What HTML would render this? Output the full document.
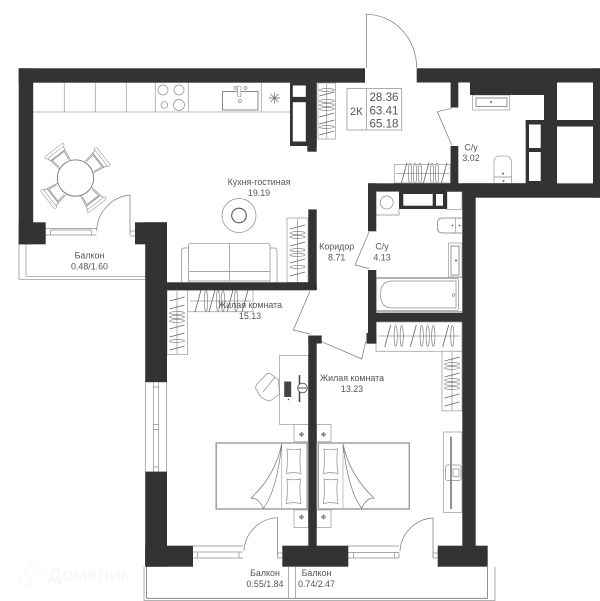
<!DOCTYPE html>
<html><head><meta charset="utf-8"><style>
html,body{margin:0;padding:0;background:#fff}
svg{display:block;filter:blur(.3px)}
text{font-family:"Liberation Sans",sans-serif;font-size:8.9px;fill:#555;text-anchor:middle}
.l{fill:none;stroke:#8c8c8c;stroke-width:.7}
.k{fill:#fff;stroke:#a5a5a5;stroke-width:.8}
.d{fill:none;stroke:#777;stroke-width:.7}
.t{fill:#fff;stroke:#a0a0a0;stroke-width:1.5}
</style></head><body>
<svg width="600" height="601" viewBox="0 0 600 601" xmlns="http://www.w3.org/2000/svg">
<defs>
<g id="hv"><ellipse cx="0" cy="0" rx="1.6" ry="10.5" fill="#fff" stroke="#777" stroke-width=".6"/></g>
<g id="hs"><line x1="-3" y1="11" x2="3" y2="-11" stroke="#666" stroke-width=".8"/></g>
<g id="hh"><ellipse cx="0" cy="0" rx="7.5" ry="1.4" fill="#fff" stroke="#777" stroke-width=".6"/></g>
<g id="hj"><line x1="-7.5" y1="2" x2="7.5" y2="-2" stroke="#666" stroke-width=".8"/></g>
<g id="ch"><path class="l" d="M-7-17 L-9-29 H9 L7-17"/><path class="l" d="M-6-19 L-7.5-28 H7.5 L6-19"/><rect x="-11.5" y="-35.5" width="23" height="3" rx="1" fill="#fff" stroke="#999" stroke-width=".6"/><path class="l" d="M-10-32.5 L-9-29 M10-32.5 L9-29"/></g>
<g id="p"><path class="l" d="M1.5 0 Q8 1.6 15 0 Q13.5 12 15.5 24.5 Q8 22.8 1 24.5 Q2.5 12 1.5 0Z"/></g>
<g id="hb"><circle cx="0" cy="0" r="1.6" class="l"/><line x1="-2.5" y1="0" x2="2.5" y2="0" stroke="#555" stroke-width=".6"/><line x1="0" y1="-2.5" x2="0" y2="2.5" stroke="#555" stroke-width=".6"/></g>
</defs>

<!-- watermark -->
<text x="48" y="581" style="font-size:19px;fill:#f8f8f8;text-anchor:start;font-weight:bold">Домклик</text>
<path d="M21 578 L32 561 L43 568 V572 L30 578 V585 H21Z" fill="none" stroke="#f8f8f8" stroke-width="1.2"/>

<!-- balconies -->
<path class="l" d="M19 244 V279.3 H145 M26 244 V276.3 H145"/>
<path d="M144 567 V600.5 H495 V567" fill="none" stroke="#999" stroke-width=".8"/>
<path d="M146.5 567 V598.3 H487.5 V567" fill="none" stroke="#777" stroke-width=".8"/>
<path class="l" d="M288.5 567 V598.3 M295.5 567 V598.3"/>

<!-- kitchen counter -->
<path class="k" d="M33 112 H290 M64.3 82 V112 M95.3 82 V112 M126.3 82 V112 M155.3 82 V112 M188.3 82 V112 M261.3 82 V112" style="fill:none"/>
<circle class="l" cx="163" cy="90" r="5"/><circle class="l" cx="179" cy="90" r="5"/><circle class="l" cx="164.3" cy="105" r="3.3"/><circle class="l" cx="179" cy="105" r="5.5"/>
<rect x="222.5" y="91.5" width="35.5" height="18.5" fill="#fff" stroke="#888" stroke-width="1"/>
<rect x="237.5" y="86" width="3.4" height="11" rx="1.7" fill="#fff" stroke="#888" stroke-width=".6"/>
<circle class="l" cx="235.5" cy="88" r="1.5"/><circle class="l" cx="245.5" cy="88" r="1.5"/><circle class="l" cx="240" cy="101" r="1.5"/>
<path d="M269 98 H280 M274.5 92.5 V103.5 M270.5 94 L278.5 102 M278.5 94 L270.5 102" stroke="#666" stroke-width=".7"/>

<!-- dining -->
<g transform="translate(75.5 178)">
<use href="#ch" transform="rotate(-38)"/><use href="#ch" transform="rotate(52)"/><use href="#ch" transform="rotate(142)"/><use href="#ch" transform="rotate(232)"/>
<circle r="18.2" fill="#fff" stroke="#777" stroke-width=".9"/>
</g>

<!-- rug and sofa -->
<circle class="l" cx="239" cy="215.5" r="17"/><circle cx="239" cy="215.5" r="7.3" fill="none" stroke="#555" stroke-width="1.1"/>
<path class="l" d="M181.5 282 V251 Q181.5 248 184 248 H188.5 M277 282 V251 Q277 248 274.5 248 H270 M188.5 282 V246 Q188.5 243.3 191 243.3 H267.5 Q270 243.3 270 246 V282 M229.5 243.3 V281 M188.5 271.5 H270 M188.5 281 H270"/>

<!-- wardrobes -->
<rect class="k" x="318" y="83" width="17.5" height="56"/>
<rect class="k" x="287" y="218" width="21" height="64.5"/>
<rect class="k" x="394.3" y="164.5" width="56" height="18.5"/>
<rect class="k" x="167" y="290" width="20.5" height="64.5"/>
<rect class="k" x="187.5" y="290" width="65.5" height="21.7"/>
<rect class="k" x="376" y="322" width="86" height="29.3"/>
<rect class="k" x="442" y="351.3" width="20" height="59.5"/>
<use href="#hh" x="326.8" y="90"/><use href="#hj" x="326.8" y="94"/><use href="#hh" x="326.8" y="101"/><use href="#hh" x="326.8" y="105"/><use href="#hh" x="326.8" y="109"/><use href="#hj" x="326.8" y="115"/><use href="#hj" x="326.8" y="122"/><use href="#hh" x="326.8" y="127"/><use href="#hj" x="326.8" y="133"/>
<use href="#hj" x="297.5" y="227"/><use href="#hh" x="297.5" y="233"/><use href="#hh" x="297.5" y="237"/><use href="#hj" x="297.5" y="244"/><use href="#hh" x="297.5" y="250"/><use href="#hh" x="297.5" y="255"/><use href="#hj" x="297.5" y="261"/><use href="#hh" x="297.5" y="267"/><use href="#hj" x="297.5" y="274"/>
<use href="#hs" x="404" y="173.5"/><use href="#hv" x="410" y="173.5"/><use href="#hv" x="415" y="173.5"/><use href="#hv" x="420" y="173.5"/><use href="#hs" x="426" y="173.5"/><use href="#hv" x="432" y="173.5"/><use href="#hv" x="437" y="173.5"/><use href="#hs" x="444" y="173.5"/>
<use href="#hj" x="177" y="299"/><use href="#hj" x="177" y="307"/><use href="#hh" x="177" y="313"/><use href="#hh" x="177" y="317"/><use href="#hh" x="177" y="321"/><use href="#hj" x="177" y="327"/><use href="#hj" x="177" y="335"/><use href="#hh" x="177" y="341"/><use href="#hj" x="177" y="348"/>
<use href="#hs" x="198" y="301"/><use href="#hv" x="206" y="301"/><use href="#hs" x="212" y="301"/><use href="#hv" x="218" y="301"/><use href="#hv" x="223" y="301"/><use href="#hs" x="230" y="301"/><use href="#hv" x="236" y="301"/><use href="#hs" x="245" y="301"/>
<use href="#hs" x="387.7" y="336"/><use href="#hv" x="395.7" y="336"/><use href="#hv" x="401.7" y="336"/><use href="#hs" x="413.3" y="336"/><use href="#hv" x="421.7" y="336"/><use href="#hv" x="427.7" y="336"/><use href="#hv" x="433.3" y="336"/><use href="#hs" x="445.7" y="336"/><use href="#hv" x="452.3" y="336"/>
<use href="#hj" x="452" y="359"/><use href="#hh" x="452" y="364"/><use href="#hh" x="452" y="368"/><use href="#hj" x="452" y="375"/><use href="#hh" x="452" y="380"/><use href="#hh" x="452" y="384"/><use href="#hh" x="452" y="388"/><use href="#hj" x="452" y="396"/><use href="#hj" x="452" y="404"/>
<path d="M326.8 84 V138 M297.5 219 V282 M396 173.5 H449 M177 291 V354 M190 301 H251 M379 336 H460 M452 352 V410" stroke="#666" stroke-width=".5"/>

<!-- info -->
<rect x="347" y="88.5" width="54.7" height="41.5" fill="#fff" stroke="#999" stroke-width=".8"/>
<line x1="366.5" y1="88.5" x2="366.5" y2="130" stroke="#999" stroke-width=".8"/>
<text x="356.3" y="115" style="font-size:11px">2К</text>
<text x="384" y="101" style="font-size:11.6px">28.36</text>
<text x="384" y="114.3" style="font-size:11.6px">63.41</text>
<text x="384" y="127.5" style="font-size:11.6px">65.18</text>

<!-- bath 1 -->
<rect class="k" x="472.5" y="95" width="37.2" height="15"/>
<rect x="476" y="98" width="31" height="8.5" fill="#fff" stroke="#888" stroke-width=".9"/>
<circle cx="491" cy="102" r="1" fill="#666"/>
<path class="k" d="M494 183 V163 Q494 156 500 156 H505.5 Q511.5 156 511.5 163 V183"/>
<path class="l" d="M494 177 H511.5"/>
<circle cx="503" cy="173.5" r="1" fill="#666"/><circle cx="503.5" cy="181" r="1" fill="#666"/>

<!-- bath 2 -->
<circle class="l" cx="386.7" cy="202.5" r="6.5"/>
<path class="l" d="M376 215 H399 V209"/>
<rect class="k" x="447" y="191.5" width="15" height="18"/>
<path d="M462 218 H443 Q437.5 218 437.5 223 V228 Q437.5 233 443 233 H462" fill="#fff" stroke="#999" stroke-width="1"/>
<line x1="455.5" y1="218" x2="455.5" y2="233" stroke="#999" stroke-width=".7"/>
<circle cx="452.5" cy="225.5" r=".9" fill="#555"/><circle cx="459.5" cy="225.5" r=".9" fill="#555"/>
<rect class="k" x="448.5" y="243" width="13.5" height="34"/>
<rect x="451" y="246" width="8" height="29" fill="#fff" stroke="#888" stroke-width=".9"/>
<circle cx="456" cy="260.5" r="1" fill="#555"/>
<path d="M376 277.5 H462" stroke="#999" stroke-width=".7"/>
<rect x="376" y="278.5" width="82.5" height="32" rx="2" fill="#fff" stroke="#999" stroke-width=".8"/>
<path class="l" d="M408 281 H392 Q380.5 281 380.5 294 Q380.5 308 392 308 H456 V281 H408"/>
<circle class="l" cx="453.5" cy="295" r="1.3"/>
<line x1="376" y1="311.5" x2="462" y2="311.5" stroke="#999" stroke-width=".8"/>

<!-- doors -->
<path class="d" d="M366.3 68 V14.3 A50.4 53.7 0 0 1 416.7 68"/>
<path class="d" d="M130 235 V195 A37 37 0 0 0 96.7 231"/>
<path class="l" d="M130 236 H135 M130 231 H135"/>
<path class="d" d="M277.5 558 V517.7 A35 35 0 0 0 244 551"/>
<path class="l" d="M277.5 553 H282 M277.5 558 H282"/>
<path class="d" d="M433 558 V518 A35 35 0 0 0 400 551"/>
<path class="l" d="M433 553 H438 M433 558 H438"/>
<path class="d" d="M369 232 L355 265 L369 268.5"/>
<path class="d" d="M451.7 108.3 L437.3 111.7 L451.7 145"/>
<path class="d" d="M310 291 L293.3 330 L310 334"/>
<path class="d" d="M321.7 341.7 L361.7 359 L365.7 341.7"/>

<!-- balcony door windows -->
<path class="l" d="M45.5 228.5 H96.5 M45.5 235 H96.5 M50.5 230 V235 M91.7 230 V235 M50.5 230 H91.7"/>
<path class="l" d="M193 546 H243 M193 552 H243 M193 558 H243 M197.5 552.5 V558 M239 552.5 V558"/>
<path class="l" d="M348 546 H399 M348 552.5 H399 M348 558 H399 M353.5 552.5 V558 M399 552.5 V558 M394.5 552.5 V558"/>
<!-- left window -->
<path class="l" d="M145.3 382 V472 M153.3 382 V472 M158.7 382 V472 M166.7 382 V472 M153.3 387 H158.7 M153.3 424.5 H158.7 M153.3 429.5 H158.7 M153.3 467 H158.7 M145.3 382 H166.7 M145.3 472 H166.7"/>

<!-- desk -->
<rect class="k" x="279.5" y="355.5" width="29" height="69"/>
<path class="l" d="M271 374 L278.5 380 L279.5 394 L270 401 Q264 400 260 396 L255.5 388 Q256 385 258 383 L266 374.5 Q268.5 372.5 271 374Z"/>
<path class="l" d="M263 392 L275 377"/>
<rect x="284.2" y="381.5" width="7" height="15.5" fill="#444"/>
<circle cx="288.5" cy="399.5" r=".8" fill="#555"/>
<line x1="299.5" y1="375" x2="299.5" y2="402" stroke="#444" stroke-width="1.5"/>
<circle cx="302.5" cy="388" r="4.8" fill="#fff" stroke="#555" stroke-width=".9"/>
<line x1="298" y1="388" x2="307" y2="388" stroke="#555" stroke-width="1"/>

<!-- nightstands -->
<rect class="k" x="294" y="424.5" width="14.5" height="17.2"/><rect class="k" x="294" y="510" width="14.5" height="17.5"/>
<rect class="k" x="316.5" y="424.5" width="14.5" height="17.2"/><rect class="k" x="316.5" y="510" width="14.5" height="17.5"/>
<use href="#hb" x="301.5" y="434.5"/><use href="#hb" x="301.5" y="517"/><use href="#hb" x="323.5" y="434.5"/><use href="#hb" x="323.5" y="517"/>

<!-- beds -->
<rect class="t" x="216.2" y="443" width="91" height="66"/>
<rect class="t" x="318.3" y="443" width="91" height="66"/>
<path d="M281.7 443 V509 M343 443 V509" stroke="#aaa" stroke-width=".7" fill="none"/>
<path fill="#fff" stroke="#777" stroke-width=".7" d="M281.7 444 Q275 476 251 498 Q259 498 263.3 508.5 Q277 490 281.7 444Z"/>
<path fill="#fff" stroke="#777" stroke-width=".7" d="M343 444 Q350 476 374 498 Q366 498 361.7 508.5 Q348 490 343 444Z"/>
<use href="#p" x="285.5" y="449"/><use href="#p" x="285.5" y="479"/>
<use href="#p" x="322.5" y="449"/><use href="#p" x="322.5" y="479"/>

<!-- tv -->
<rect class="k" x="443.5" y="432" width="18.5" height="80.5"/>
<line x1="451" y1="436.7" x2="451" y2="509" stroke="#555" stroke-width="1.3"/>
<rect class="l" x="445.5" y="465" width="15.5" height="15.5" rx="2"/>
<rect class="l" x="453" y="469" width="6" height="7.5"/>

<!-- walls -->
<g fill="#333">
<rect x="18.7" y="68.3" width="346.3" height="14.4"/>
<rect x="18.7" y="68.3" width="14.5" height="176"/>
<rect x="18.7" y="222.3" width="27" height="22"/>
<rect x="135" y="222.3" width="32" height="22"/>
<rect x="145.2" y="222.3" width="21.8" height="159.7"/>
<rect x="145.2" y="471.7" width="21.8" height="95"/>
<rect x="145.2" y="545.7" width="47.8" height="21"/>
<rect x="167" y="282.3" width="149.7" height="8"/>
<rect x="308.3" y="209.4" width="8.4" height="80.6"/>
<rect x="416.7" y="68.3" width="183.3" height="14.2"/>
<rect x="593" y="68.3" width="7" height="129.4"/>
<rect x="368" y="183.3" width="232" height="8.3"/>
<rect x="462.3" y="183.3" width="137.7" height="14.4"/>
<rect x="450.6" y="82" width="7.7" height="25.5"/>
<rect x="450.6" y="146" width="7.7" height="38"/>
<rect x="470" y="82" width="87" height="13"/>
<rect x="544" y="82" width="13" height="102"/>
<rect x="525.7" y="120" width="74" height="6.5"/>
<rect x="525.7" y="120" width="18.5" height="64"/>
<rect x="290" y="82" width="26.7" height="64"/>
<rect x="307.3" y="82" width="9.4" height="69.7"/>
<rect x="368" y="183.3" width="8.3" height="48"/>
<rect x="368" y="270" width="8.3" height="73.6"/>
<rect x="366.5" y="333" width="9.8" height="10.6"/>
<rect x="368" y="312.7" width="95" height="9"/>
<rect x="399" y="191" width="48" height="18"/>
<rect x="462.3" y="191" width="13.4" height="355"/>
<rect x="437.7" y="545.7" width="50" height="21"/>
<rect x="308.3" y="335.5" width="8.4" height="211"/>
<rect x="308.3" y="335.5" width="13.4" height="8"/>
<rect x="282.3" y="545.7" width="66" height="21"/>
</g>
<g fill="#fff">
<rect x="292.8" y="85.5" width="13" height="11.4"/>
<rect x="292.8" y="102.2" width="13" height="39.3"/>
<rect x="403.3" y="194" width="29.4" height="11.7"/>
<rect x="436" y="194" width="7" height="11.7"/>
<rect x="529" y="124.5" width="11.7" height="23.5"/>
<rect x="529" y="152" width="11.7" height="29"/>
<rect x="557.3" y="82.5" width="35.7" height="37.5"/>
<rect x="557.3" y="126.7" width="35.7" height="56.6"/>
</g>

<!-- labels -->
<text x="259" y="185">Кухня-гостиная</text><text x="259" y="196">19.19</text>
<text x="89.5" y="258.5">Балкон</text><text x="89.5" y="269.5">0.48/1.60</text>
<text x="336.7" y="249.7">Коридор</text><text x="336.7" y="260.5">8.71</text>
<text x="382" y="249.7">С/у</text><text x="382" y="260.5">4.13</text>
<text x="471" y="150.5">С/у</text><text x="471" y="161">3.02</text>
<text x="250" y="308">Жилая комната</text><text x="250" y="319">15.13</text>
<text x="352" y="381">Жилая комната</text><text x="352" y="392">13.23</text>
<text x="265" y="576">Балкон</text><text x="265" y="587">0.55/1.84</text>
<text x="316.5" y="576">Балкон</text><text x="316.5" y="587">0.74/2.47</text>
</svg>
</body></html>
